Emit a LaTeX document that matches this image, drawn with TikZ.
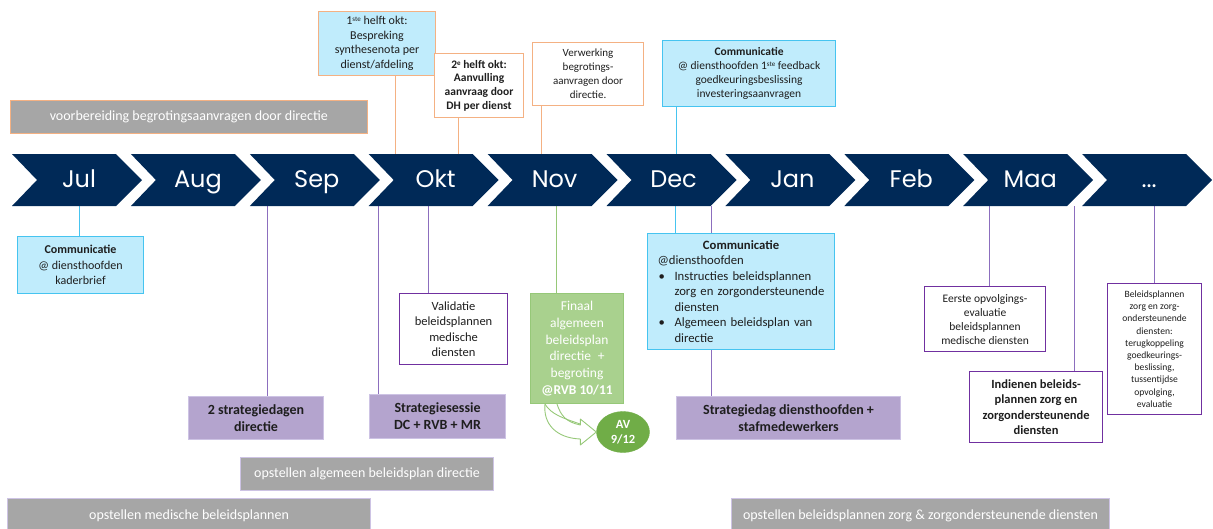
\documentclass[tikz,border=0pt]{standalone}
\usepackage{fontspec}
\setmainfont{Carlito}
\newfontfamily\monthfont{Poppins}
\usetikzlibrary{backgrounds,shapes.geometric,calc}
\definecolor{navy}{RGB}{0,41,87}
\definecolor{txt}{RGB}{30,30,30}
\definecolor{lblue}{RGB}{192,236,252}
\definecolor{bblue}{RGB}{70,196,240}
\definecolor{orng}{RGB}{244,177,131}
\definecolor{gfill}{RGB}{166,166,166}
\definecolor{lavb}{RGB}{205,195,228}
\definecolor{pfill}{RGB}{180,164,206}
\definecolor{pbord}{RGB}{112,48,160}
\definecolor{pline}{RGB}{140,110,190}
\definecolor{grfill}{RGB}{169,209,142}
\definecolor{grbord}{RGB}{150,200,120}
\definecolor{avfill}{RGB}{112,173,71}
\newcommand\fsz[2]{\fontsize{#1}{#2}\selectfont}
\newcommand\sups[1]{\raisebox{0.55ex}{\fsz{7}{7}#1}}
\tikzset{
  bx/.style={draw, line width=1.1pt, align=center, inner sep=0pt, anchor=north west, text=txt},
  topo/.style={bx, draw=orng},
  bluebox/.style={bx, fill=lblue, draw=bblue},
  whitepurple/.style={bx, fill=white, draw=pbord},
  purplebox/.style={bx, fill=pfill, draw=lavb, font=\bfseries\fsz{14}{17}},
  graybar/.style={bx, fill=gfill, draw=lavb, text=white, font=\fsz{14}{16}},
  monthlabel/.style={text=white, anchor=base, font=\monthfont\fsz{24}{26}},
  chev/.style={fill=navy},
  conn/.style={line width=1pt},
}
\begin{document}
\begin{tikzpicture}[x=1pt,y=-1pt]
\useasboundingbox (0,0) rectangle (1213,528);

% chevrons
\foreach \m [count=\i from 0] in {Jul,Aug,Sep,Okt,Nov,Dec,Jan,Feb,Maa} {
  \pgfmathsetmacro\xx{12+118.9*\i}
  \fill[chev] (\xx,154) -- ++(104,0) -- ++(26,26) -- ++(-26,26) -- ++(-104,0) -- ++(25,-26) -- cycle;
  \node[monthlabel] (m\i) at (\xx+67,187) {\m};
}
\fill[chev] (1082.1,154) -- ++(104,0) -- ++(26,26) -- ++(-26,26) -- ++(-104,0) -- ++(25,-26) -- cycle;
\node[monthlabel] (m9) at (1149.1,187) {...};

% connector anchor points on the chevron row
\coordinate (ct1) at (395,154);
\coordinate (ct2) at (458,154);
\coordinate (ct3) at (541,154);
\coordinate (ct4) at (676,154);
\coordinate (cb1) at (79,206);
\coordinate (cb2) at (267,206);
\coordinate (cb3) at (378,206);
\coordinate (cb4) at (428,206);
\coordinate (cb5) at (556,206);
\coordinate (cb6) at (675,206);
\coordinate (cb7) at (711,206);
\coordinate (cb8) at (989,206);
\coordinate (cb9) at (1074,206);
\coordinate (cb10) at (1154,206);

% gray bars
\node[graybar, draw=orng, minimum width=357.5, minimum height=33] (g1) at (9.5,100) {voorbereiding begrotingsaanvragen door directie};
\node[graybar, minimum width=253, minimum height=33] (g2) at (240,457) {opstellen algemeen beleidsplan directie};
\node[graybar, minimum width=363, minimum height=35] (g3) at (7,498) {opstellen medische beleidsplannen};
\node[graybar, minimum width=378, minimum height=35] (g4) at (731,498) {opstellen beleidsplannen zorg \& zorgondersteunende diensten};

% top boxes
\node[topo, fill=lblue, minimum width=117, minimum height=64, font=\fsz{12}{14.5}] (t1) at (318,11)
  {1\sups{ste} helft okt:\\Bespreking\\synthesenota per\\dienst/afdeling};
\node[topo, fill=white, minimum width=89, minimum height=64, font=\bfseries\fsz{11.5}{13.6}] (t2) at (434,53)
  {2\sups{e} helft okt:\\Aanvulling\\aanvraag door\\DH per dienst};
\node[topo, fill=white, minimum width=111, minimum height=63, font=\fsz{11}{14}] (t3) at (532,42)
  {Verwerking\\begrotings-\\aanvragen door\\directie.};
\node[bluebox, minimum width=173, minimum height=66, font=\fsz{11.5}{14}] (t4) at (662,40)
  {\textbf{Communicatie}\\@ diensthoofden 1\sups{ste} feedback\\goedkeuringsbeslissing\\investeringsaanvragen};

% bottom boxes
\node[bluebox, minimum width=126, minimum height=57, font=\fsz{12}{15.5}] (b1) at (17,236)
  {\textbf{Communicatie}\\@ diensthoofden\\kaderbrief};
\node[purplebox, minimum width=135, minimum height=43] (b2) at (188,396) {2 strategiedagen\\directie};
\node[purplebox, minimum width=136, minimum height=44] (b3) at (369,394) {Strategiesessie\\DC + RVB + MR};
\node[whitepurple, minimum width=108, minimum height=71, font=\fsz{12.5}{15.5}] (b4) at (399,293)
  {Validatie\\beleidsplannen\\medische\\diensten};
\node[bx, fill=grfill, draw=grbord, text=white, minimum width=93, minimum height=110, font=\fsz{13.5}{16.7}] (b5) at (530,293)
  {Finaal\\algemeen\\beleidsplan\\directie\enspace+\\begroting\\\textbf{@RVB 10/11}};
\node[ellipse, fill=avfill, draw=avfill, text=white, align=center, inner sep=0pt, minimum width=53, minimum height=41, font=\bfseries\fsz{12.5}{15}] (av) at (623,432)
  {AV\\9/12};
\node[bluebox, align=left, minimum width=187, minimum height=116, text width=187, font=\fsz{12.7}{15.5}] (b6) at (647,233)
  {\makebox[187pt][c]{\textbf{Communicatie}}\\
   \hspace*{10pt}@diensthoofden\\
   \hspace*{11pt}\makebox[16pt][l]{\textbullet}Instructies beleidsplannen\\
   \hspace*{27pt}zorg en zorgondersteunende\\
   \hspace*{27pt}diensten\\
   \hspace*{11pt}\makebox[16pt][l]{\textbullet}Algemeen beleidsplan van\\
   \hspace*{27pt}directie};
\node[purplebox, minimum width=224, minimum height=43] (b7) at (676,396) {Strategiedag diensthoofden +\\stafmedewerkers};
\node[whitepurple, minimum width=121, minimum height=65, font=\fsz{11.5}{14}] (b8) at (924,286)
  {Eerste opvolgings-\\evaluatie\\beleidsplannen\\medische diensten};
\node[whitepurple, minimum width=133, minimum height=71, font=\bfseries\fsz{12.5}{15.5}] (b9) at (969,371)
  {Indienen beleids-\\plannen zorg en\\zorgondersteunende\\diensten};
\node[whitepurple, minimum width=94, minimum height=131, font=\fsz{9.6}{12.2}] (b10) at (1107,283)
  {Beleidsplannen\\zorg en zorg-\\ondersteunende\\diensten:\\terugkoppeling\\goedkeurings-\\beslissing,\\tussentijdse\\opvolging,\\evaluatie};

% connectors
\begin{scope}[on background layer]
  \draw[conn, orng] (t1.south -| ct1) -- (ct1);
  \draw[conn, orng] (t2.south -| ct2) -- (ct2);
  \draw[conn, orng] (t3.south -| ct3) -- (ct3);
  \draw[conn, bblue] (t4.south -| ct4) -- (ct4);
  \draw[conn, bblue] (cb1) -- (b1.north -| cb1);
  \draw[conn, pline] (cb2) -- (b2.north -| cb2);
  \draw[conn, pline] (cb3) -- (b3.north -| cb3);
  \draw[conn, pline] (cb4) -- (b4.north -| cb4);
  \draw[conn, grbord] (cb5) -- (b5.north -| cb5);
  \draw[conn, bblue] (cb6) -- (b6.north -| cb6);
  \draw[conn, pline] (cb7) -- (b7.north -| cb7);
  \draw[conn, pline] (cb8) -- (b8.north -| cb8);
  \draw[conn, pline] (cb9) -- (b9.north -| cb9);
  \draw[conn, pline] (cb10) -- (b10.north -| cb10);
\end{scope}

% curved block arrow from Finaal box to AV
\coordinate (arA) at ($(b5.south west)+(15,0)$);
\coordinate (arB) at ($(b5.south west)+(27,0)$);
\coordinate (arT) at (av.west);
\draw[grbord, line width=0.9pt, line join=round]
  (arB) .. controls ($(arB)+(4,12)$) and ($(arT)+(-30,-10)$) .. ($(arT)+(-16,-7)$)
  -- ($(arT)+(-16,-13)$) -- (arT) -- ($(arT)+(-16,13)$) -- ($(arT)+(-16,7)$)
  .. controls ($(arT)+(-40,6)$) and ($(arA)+(-2,20)$) .. (arA);
\draw[grbord, line width=0.9pt]
  (arA) .. controls ($(arA)+(6,10)$) and ($(arT)+(-34,-14)$) .. ($(arT)+(-16,-8)$);
\end{tikzpicture}
\end{document}
